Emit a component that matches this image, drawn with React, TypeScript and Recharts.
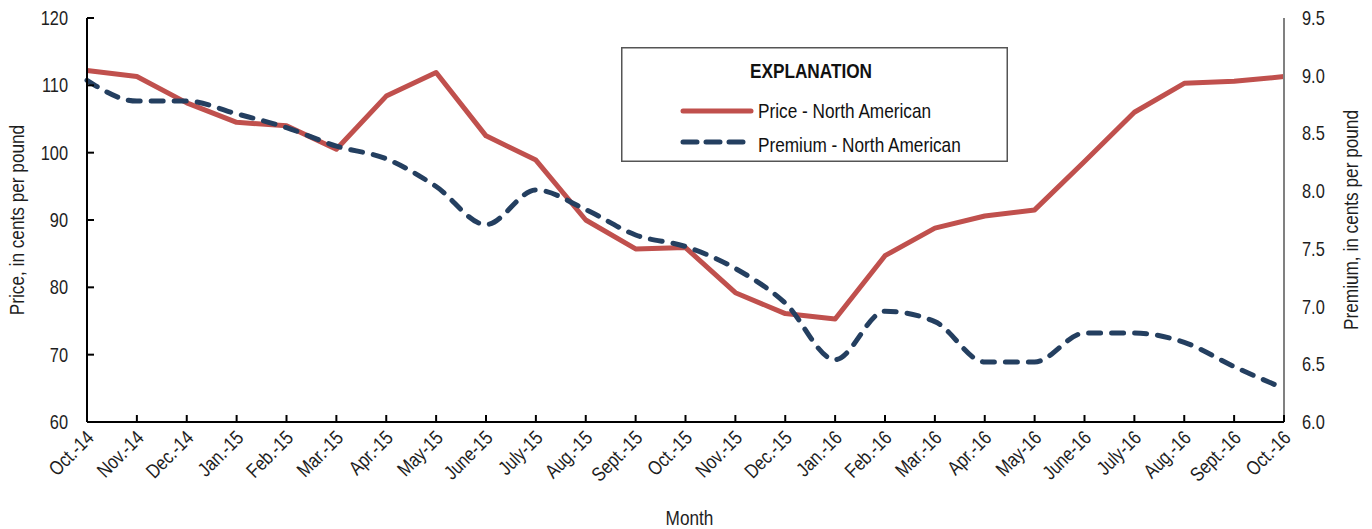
import React from 'react';
import { LineChart, Line, XAxis, YAxis, Legend } from 'recharts';

const months = [
  'Oct.-14', 'Nov.-14', 'Dec.-14', 'Jan.-15', 'Feb.-15', 'Mar.-15', 'Apr.-15', 'May-15',
  'June-15', 'July-15', 'Aug.-15', 'Sept.-15', 'Oct.-15', 'Nov.-15', 'Dec.-15', 'Jan.-16',
  'Feb.-16', 'Mar.-16', 'Apr.-16', 'May-16', 'June-16', 'July-16', 'Aug.-16', 'Sept.-16', 'Oct.-16'
];

// cents per pound
const price = [
  112.2, 111.3, 107.4, 104.5, 104.0, 100.5, 108.4, 111.9,
  102.5, 98.9, 90.0, 85.7, 85.9, 79.2, 76.1, 75.3,
  84.7, 88.8, 90.6, 91.5, 98.7, 106.0, 110.3, 110.6, 111.3
];

const premium = [
  8.96, 8.78, 8.78, 8.67, 8.55, 8.39, 8.28, 8.04,
  7.71, 8.01, 7.84, 7.62, 7.52, 7.33, 7.03, 6.54,
  6.96, 6.87, 6.52, 6.52, 6.77, 6.77, 6.69, 6.48, 6.29
];

const priceTicks = [60, 70, 80, 90, 100, 110, 120];
const premiumTicks = [6.0, 6.5, 7.0, 7.5, 8.0, 8.5, 9.0, 9.5];

const RED = '#C0504D';
const NAVY = '#243F60';
const INK = '#1e1e1e';
// no Arial Narrow here, so squeeze Liberation Sans the same way
const FONT = '"Liberation Sans", Arial, sans-serif';
const SQUEEZE = 0.82;

const data = months.map((m, i) => ({ month: m, price: price[i], premium: premium[i] }));

const BottomTick = (props: any) => {
  const { x, y, payload } = props;
  return (
    <g>
      <line x1={x} y1={y} x2={x} y2={y - 7} stroke="#000" strokeWidth={2} />
      <g transform={`translate(${x + 8} ${y + 17}) rotate(-45) scale(${SQUEEZE} 1)`}>
        <text x={0} y={0} textAnchor="end" fontSize={20} fill={INK} fontFamily={FONT}>
          {payload.value}
        </text>
      </g>
    </g>
  );
};

const TopTick = (props: any) => {
  const { x, y } = props;
  return <line x1={x} y1={y} x2={x} y2={y + 7} stroke="#808080" strokeWidth={2} />;
};

const LeftTick = (props: any) => {
  const { x, y, payload } = props;
  return (
    <g>
      <line x1={x + 19} y1={y} x2={x + 26} y2={y} stroke="#000" strokeWidth={2} />
      <g transform={`translate(${x} ${y + 7}) scale(${SQUEEZE} 1)`}>
        <text x={0} y={0} textAnchor="end" fontSize={20} fill={INK} fontFamily={FONT}>
          {payload.value}
        </text>
      </g>
    </g>
  );
};

const RightTick = (props: any) => {
  const { x, y, payload } = props;
  return (
    <g transform={`translate(${x} ${y + 7}) scale(${SQUEEZE} 1)`}>
      <text x={0} y={0} textAnchor="start" fontSize={20} fill={INK} fontFamily={FONT}>
        {Number(payload.value).toFixed(1)}
      </text>
    </g>
  );
};

const SideLabel = ({ viewBox, value, dx }: any) => {
  const cx = viewBox.x + dx;
  const cy = viewBox.y + viewBox.height / 2;
  return (
    <g transform={`translate(${cx} ${cy}) rotate(-90) scale(${SQUEEZE} 1)`}>
      <text x={0} y={0} dy={7} textAnchor="middle" fontSize={21} fill={INK} fontFamily={FONT}>
        {value}
      </text>
    </g>
  );
};

const MonthLabel = ({ viewBox }: any) => {
  const cx = viewBox.x + viewBox.width / 2 + 4;
  const cy = viewBox.y + 103;
  return (
    <g transform={`translate(${cx} ${cy}) scale(${SQUEEZE} 1)`}>
      <text x={0} y={0} textAnchor="middle" fontSize={21} fill={INK} fontFamily={FONT}>
        Month
      </text>
    </g>
  );
};

const ExplanationBox = () => (
  <svg width={388} height={116} style={{ display: 'block' }}>
    <rect x={0.75} y={0.75} width={385.5} height={113.5} fill="#fff" stroke="#555" strokeWidth={1.5} />
    <g transform={`translate(190 31) scale(${SQUEEZE} 1)`}>
      <text x={0} y={0} textAnchor="middle" fontSize={21} fontWeight="bold" fill="#111" fontFamily={FONT}>
        EXPLANATION
      </text>
    </g>
    <line x1={62} y1={64} x2={130} y2={64} stroke={RED} strokeWidth={5} strokeLinecap="round" />
    <g transform={`translate(137 71) scale(${SQUEEZE} 1)`}>
      <text x={0} y={0} fontSize={21} fill="#111" fontFamily={FONT}>Price - North American</text>
    </g>
    <line x1={62} y1={95} x2={122} y2={95} stroke={NAVY} strokeWidth={5} strokeLinecap="round" strokeDasharray="14 9" />
    <g transform={`translate(137 105) scale(${SQUEEZE} 1)`}>
      <text x={0} y={0} fontSize={21} fill="#111" fontFamily={FONT}>Premium - North American</text>
    </g>
  </svg>
);

export default function App() {
  return (
    <div style={{ position: 'absolute', left: 0, top: 0, background: '#fff' }}>
      <LineChart
        width={1372}
        height={529}
        data={data}
        margin={{ top: 18, right: 0, bottom: 0, left: 0 }}
        style={{ fontFamily: FONT }}
      >
        <XAxis
          dataKey="month"
          xAxisId="bottom"
          interval={0}
          height={107}
          tickSize={0}
          tickMargin={0}
          tick={<BottomTick />}
          axisLine={{ stroke: '#000', strokeWidth: 2 }}
          tickLine={false}
          label={<MonthLabel />}
        />
        <XAxis
          dataKey="month"
          xAxisId="top"
          orientation="top"
          interval={0}
          height={0}
          tickSize={0}
          tickMargin={0}
          tick={<TopTick />}
          axisLine={{ stroke: '#808080', strokeWidth: 2 }}
          tickLine={false}
        />
        <YAxis
          yAxisId="left"
          width={87}
          domain={[60, 120]}
          ticks={priceTicks}
          interval={0}
          tickSize={0}
          tickMargin={19}
          tick={<LeftTick />}
          tickLine={false}
          axisLine={{ stroke: '#000', strokeWidth: 2 }}
          label={<SideLabel value="Price, in cents per pound" dx={17} />}
        />
        <YAxis
          yAxisId="right"
          orientation="right"
          width={88}
          domain={[6, 9.5]}
          ticks={premiumTicks}
          interval={0}
          tickSize={0}
          tickMargin={18}
          tick={<RightTick />}
          tickLine={false}
          axisLine={{ stroke: '#808080', strokeWidth: 2 }}
          label={<SideLabel value="Premium, in cents per pound" dx={67} />}
        />
        <Legend
          layout="vertical"
          align="center"
          verticalAlign="middle"
          wrapperStyle={{ left: 621, top: 47, width: 388, height: 116 }}
          content={() => <ExplanationBox />}
        />
        <Line
          xAxisId="bottom"
          yAxisId="left"
          type="linear"
          dataKey="price"
          name="Price - North American"
          stroke={RED}
          strokeWidth={5}
          strokeLinejoin="round"
          dot={false}
          isAnimationActive={false}
        />
        <Line
          xAxisId="bottom"
          yAxisId="right"
          type="monotone"
          dataKey="premium"
          name="Premium - North American"
          stroke={NAVY}
          strokeWidth={5}
          strokeLinecap="round"
          strokeDasharray="12 11"
          dot={false}
          isAnimationActive={false}
        />
      </LineChart>
    </div>
  );
}
